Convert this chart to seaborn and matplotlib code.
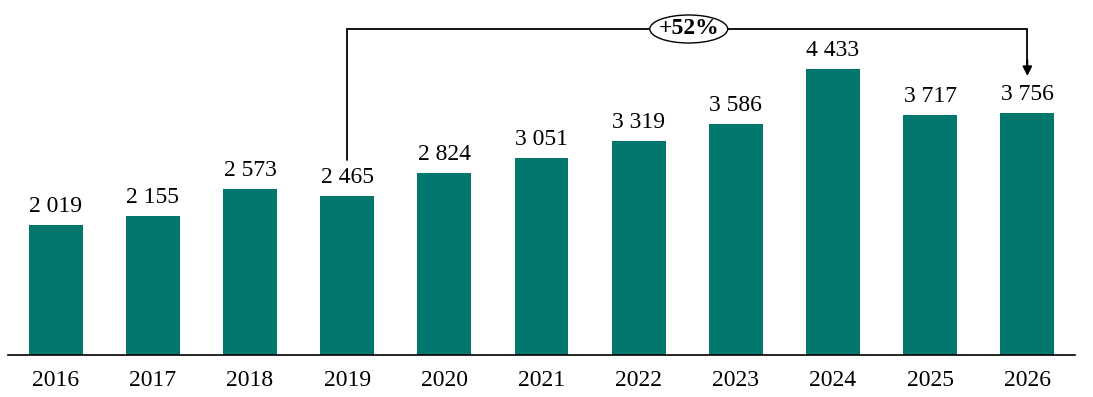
import matplotlib
matplotlib.use("Agg")
import matplotlib.pyplot as plt
import seaborn as sns
import pandas as pd
from matplotlib.patches import Ellipse

years = ["2016", "2017", "2018", "2019", "2020", "2021", "2022", "2023", "2024", "2025", "2026"]
values = [2019, 2155, 2573, 2465, 2824, 3051, 3319, 3586, 4433, 3717, 3756]
growth_label = "+52%"
from_year, to_year = "2019", "2026"

sns.set_theme(style="white")
plt.rcParams["font.family"] = ["Liberation Serif", "DejaVu Serif"]

teal = "#01776E"
df = pd.DataFrame({"year": years, "value": values})

fig = plt.figure(figsize=(10.93, 3.97), dpi=100)
ax = fig.add_axes([8 / 1093, 42 / 397, 1067 / 1093, 345 / 397])
sns.barplot(data=df, x="year", y="value", color=teal, width=0.555, saturation=1, ax=ax,
            edgecolor="none")

px_per_unit = 286 / 4433
ax.set_xlim(-0.49, len(years) - 1 + 0.49)
ax.set_ylim(0, 345 / px_per_unit)

for s in ["top", "right", "left"]:
    ax.spines[s].set_visible(False)
ax.spines["bottom"].set_color("black")
ax.spines["bottom"].set_linewidth(1.2)
ax.set_yticks([])
ax.set_xlabel("")
ax.set_ylabel("")
ax.tick_params(axis="x", length=0, pad=11, labelsize=17, colors="black")

def fmt(v):
    return f"{v:,}".replace(",", " ")

for i, v in enumerate(values):
    ax.text(i, v + 120, fmt(v), ha="center", va="bottom", fontsize=17, color="black")

def to_val(py):
    return (355 - py) / px_per_unit

# bracket
i0, i1 = years.index(from_year), years.index(to_year)
y_top = to_val(29)
y0 = to_val(160)
y_tip = to_val(76)
ax.plot([i0, i0, i1, i1], [y0, y_top, y_top, y_tip + 100], color="black", lw=1.3, clip_on=False,
        solid_joinstyle="miter")
ax.annotate("", xy=(i1, y_tip), xytext=(i1, y_tip + 250),
            arrowprops=dict(arrowstyle="-|>", color="black", lw=1.3, mutation_scale=14,
                            shrinkA=0, shrinkB=0), annotation_clip=False)
xm = (i0 + i1) / 2 + 0.015
ell = Ellipse((xm, y_top), width=78 / 97.3, height=28 / px_per_unit, facecolor="white",
              edgecolor="black", lw=1.0, clip_on=False, zorder=5)
ax.add_patch(ell)
ax.text(xm, y_top, growth_label, ha="center", va="center", fontsize=17, fontweight="bold",
        color="black", zorder=6)

fig.savefig("out.png", dpi=100)
